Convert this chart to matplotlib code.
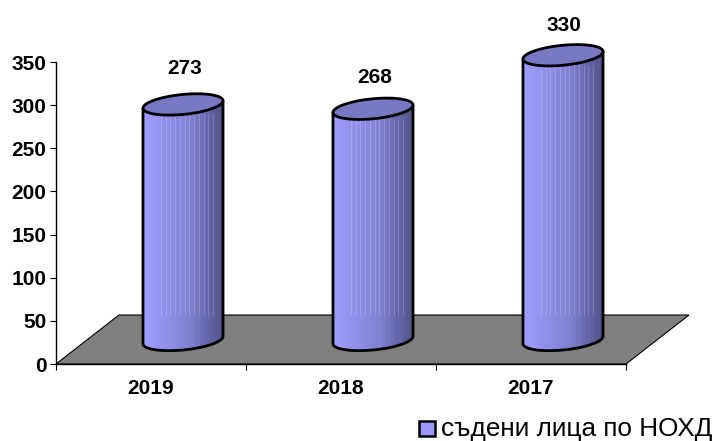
import matplotlib
matplotlib.use("Agg")
import matplotlib.pyplot as plt
import numpy as np
from matplotlib.patches import Polygon, Rectangle

plt.rcParams['font.family'] = ['Liberation Sans', 'DejaVu Sans']

years = ["2019", "2018", "2017"]
values = [273, 268, 330]
y_ticks = [0, 50, 100, 150, 200, 250, 300, 350]
legend_label = "съдени лица по НОХД"

W, H = 719, 441
fig = plt.figure(figsize=(W / 100, H / 100), dpi=100)
ax = fig.add_axes([56 / W, (H - 364) / H, 570 / W, 302 / H])

# 3d look, in data units of the axes
px_x = 1 / 190
px_y = 350 / 302
depth_x = 63 * px_x
depth_y = 49 * px_y
shift_x = 32 * px_x
shift_y = 24 * px_y
half_w = 40 * px_x
tilt = 3.7 * px_y
half_h = 10 * px_y
label_offsets = [36, 31, 30]

floor = Polygon([(0, 0), (depth_x, depth_y), (3 + depth_x, depth_y), (3, 0)],
                closed=True, facecolor="#808080", edgecolor="black", lw=0.8,
                clip_on=False, zorder=1)
ax.add_patch(floor)

# colour steps across the cylinder
light = np.array([0.62, 0.62, 1.0])
mid = np.array([0.50, 0.50, 0.82])
dark = np.array([0.33, 0.33, 0.55])
pos = np.linspace(0, 1, 24)
cols = np.array([light * (1 - p / 0.6) + mid * (p / 0.6) if p < 0.6
                 else mid * (1 - (p - 0.6) / 0.4) + dark * ((p - 0.6) / 0.4)
                 for p in pos])
grad = cols[np.newaxis, :, :]

t = np.linspace(0, 2 * np.pi, 200)
for i, (year, v) in enumerate(zip(years, values)):
    cx = i + 0.5 + shift_x
    base = shift_y
    top = shift_y + v

    ex = half_w * np.cos(t)
    ey = tilt * np.cos(t) + half_h * np.sin(t)

    # body: lower half of bottom ellipse, then up to the top ellipse
    low = t[(t >= np.pi)]
    bx = cx + half_w * np.cos(low)
    by = base + tilt * np.cos(low) + half_h * np.sin(low)
    body = np.vstack([np.column_stack([bx, by]),
                      [[cx + half_w, top + tilt]],
                      [[cx - half_w, top - tilt]]])
    patch = Polygon(body, closed=True, facecolor="none", edgecolor="black",
                    lw=2.0, zorder=4, clip_on=False, joinstyle="round")
    ax.add_patch(patch)
    im = ax.imshow(grad, extent=[cx - half_w, cx + half_w, base - half_h - tilt, top + tilt],
                   aspect="auto", zorder=3, interpolation="nearest")
    im.set_clip_box(fig.bbox)
    im.set_clip_path(patch)

    # pale stripes on the part above the floor
    sx = cx + half_w * np.linspace(-0.55, 0.75, 12)
    stripes = ax.vlines(sx, depth_y, top - half_h, color="white", lw=0.6, alpha=0.2, zorder=3.5)
    stripes.set_clip_on(False)

    cap = Polygon(np.column_stack([cx + ex, top + ey]), closed=True, facecolor="#7878C4",
                  edgecolor="black", lw=2.0, zorder=5, clip_on=False)
    ax.add_patch(cap)

    ax.annotate(str(v), (cx, top), xytext=(1, label_offsets[i] * 0.72), textcoords="offset points",
                ha="center", va="center", fontsize=15, fontweight="bold", annotation_clip=False)

ax.set_xlim(0, 3)
ax.set_ylim(0, 350)
ax.set_yticks(y_ticks)
ax.set_xticks([0, 1, 2, 3])
ax.set_xticklabels([])
ax.tick_params(axis="both", length=4, width=0.8, color="black")
ax.tick_params(axis="y", labelsize=15, pad=3)
for lab in ax.get_yticklabels():
    lab.set_fontweight("bold")
for i, year in enumerate(years):
    ax.text(i + 0.5, -24 * px_y, year, ha="center", va="center",
            fontsize=15, fontweight="bold", clip_on=False)
ax.spines["top"].set_visible(False)
ax.spines["right"].set_visible(False)
for s in ("left", "bottom"):
    ax.spines[s].set_linewidth(1.0)
    ax.spines[s].set_zorder(2)

# legend
fig.add_artist(Rectangle((419 / W, (H - 436) / H), 16 / W, 15 / H, transform=fig.transFigure,
                         facecolor="#9999FF", edgecolor="black", lw=1.8))
fig.text(441 / W, (H - 429) / H, legend_label, ha="left", va="center", fontsize=18.8)

fig.savefig("out.png", dpi=100)
